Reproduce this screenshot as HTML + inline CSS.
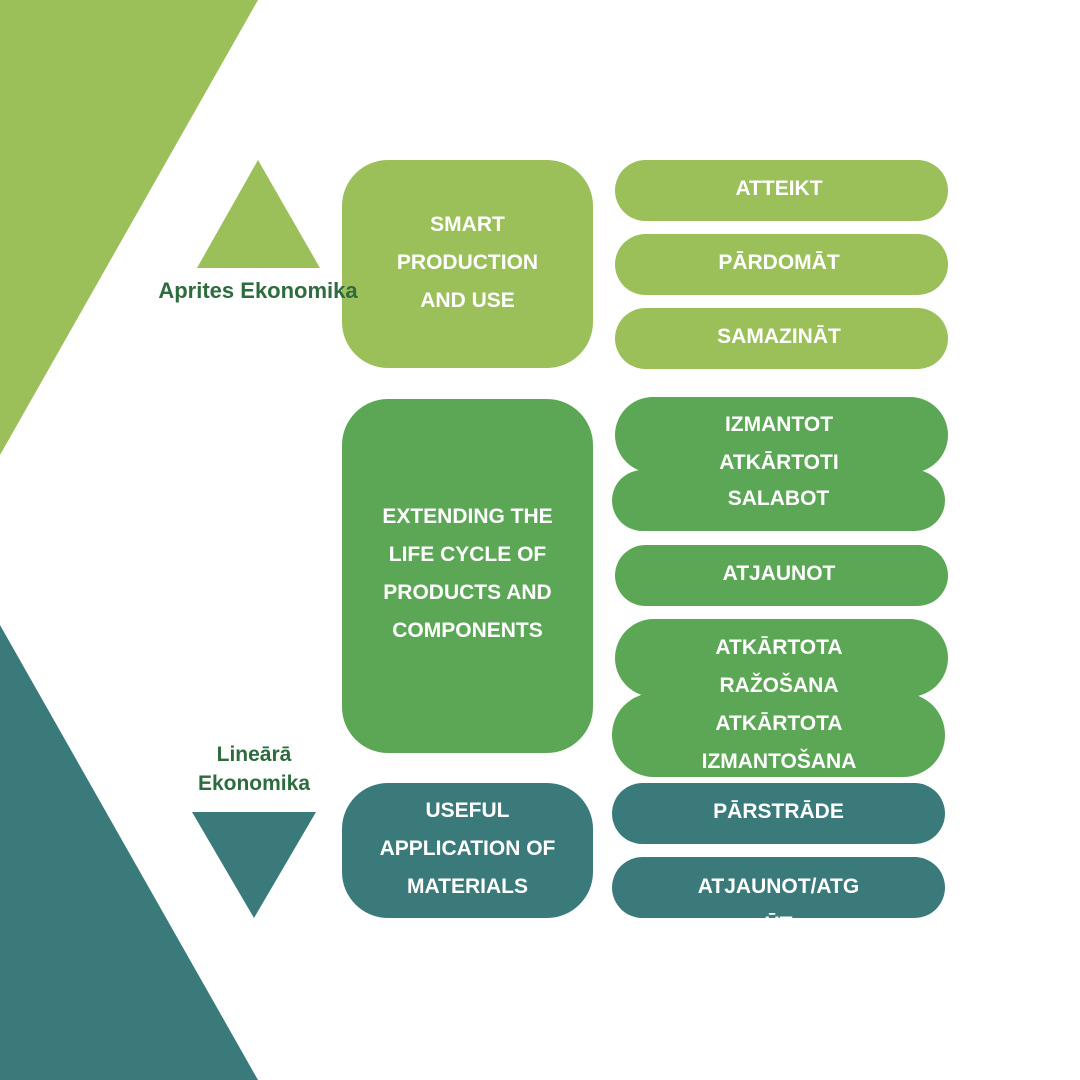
<!DOCTYPE html>
<html><head><meta charset="utf-8"><style>
body{margin:0;width:1080px;height:1080px;position:relative;background:#fff;overflow:hidden;font-family:"Liberation Sans",sans-serif;}
.s{position:absolute;}
.t{position:absolute;color:#fff;font-weight:bold;font-size:21px;line-height:38px;text-align:center;white-space:nowrap;}
.lg{background:#9bbf59}.mg{background:#5ba755}.tl{background:#3b7a7a}
.p{position:absolute;border-radius:31px;}
</style></head><body>
<svg class="s" style="left:0;top:0" width="1080" height="1080">
<polygon points="0,0 258,0 0,455" fill="#9bbf59"/>
<polygon points="0,625 258,1080 0,1080" fill="#3b7a7a"/>
<polygon points="258,160 320,268 197,268" fill="#9bbf59"/>
<polygon points="192,812 316,812 254,918" fill="#3b7a7a"/>
</svg>

<div class="s lg" style="left:342px;top:160px;width:251px;height:208px;border-radius:46px"></div>
<div class="s mg" style="left:342px;top:399px;width:251px;height:354px;border-radius:46px"></div>
<div class="s tl" style="left:342px;top:783px;width:251px;height:135px;border-radius:46px"></div>
<div class="t" style="left:342px;top:206px;width:251px">SMART<br>PRODUCTION<br>AND USE</div>
<div class="t" style="left:342px;top:498px;width:251px">EXTENDING THE<br>LIFE CYCLE OF<br>PRODUCTS AND<br>COMPONENTS</div>
<div class="t" style="left:342px;top:792px;width:251px">USEFUL<br>APPLICATION OF<br>MATERIALS</div>

<div class="t" style="left:140px;top:272px;width:236px;color:#2e6b3e;font-size:22px;z-index:5">Aprites Ekonomika</div>
<div class="t" style="left:150px;top:740px;width:208px;color:#2e6b3e;font-size:21px;line-height:29px">Lineārā<br>Ekonomika</div>

<div class="p lg" style="left:615px;top:160px;width:333px;height:61px"></div>
<div class="p lg" style="left:615px;top:234px;width:333px;height:61px"></div>
<div class="p lg" style="left:615px;top:308px;width:333px;height:61px"></div>
<div class="t" style="left:615px;top:170px;width:328px">ATTEIKT</div>
<div class="t" style="left:615px;top:244px;width:328px">PĀRDOMĀT</div>
<div class="t" style="left:615px;top:318px;width:328px">SAMAZINĀT</div>

<div class="p mg" style="left:615px;top:397px;width:333px;height:76px;border-radius:38px"></div>
<div class="p mg" style="left:612px;top:470px;width:333px;height:61px"></div>
<div class="t" style="left:615px;top:406px;width:328px">IZMANTOT<br>ATKĀRTOTI</div>
<div class="t" style="left:612px;top:480px;width:333px">SALABOT</div>

<div class="p mg" style="left:615px;top:545px;width:333px;height:61px"></div>
<div class="t" style="left:615px;top:555px;width:328px">ATJAUNOT</div>

<div class="p mg" style="left:615px;top:619px;width:333px;height:78px;border-radius:39px"></div>
<div class="p mg" style="left:612px;top:693px;width:333px;height:84px;border-radius:42px"></div>
<div class="t" style="left:615px;top:629px;width:328px">ATKĀRTOTA<br>RAŽOŠANA<br>ATKĀRTOTA<br>IZMANTOŠANA</div>

<div class="p tl" style="left:612px;top:783px;width:333px;height:61px"></div>
<div class="t" style="left:612px;top:793px;width:333px">PĀRSTRĀDE</div>
<div class="p tl" style="left:612px;top:857px;width:333px;height:61px"></div>
<div class="t" style="left:612px;top:868px;width:333px;height:50px;overflow:hidden">ATJAUNOT/ATG<br>ŪT</div>
</body></html>
